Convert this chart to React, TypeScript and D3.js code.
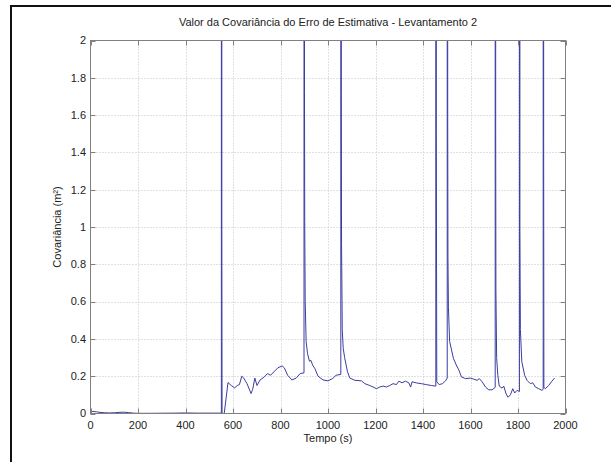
import React, { useEffect, useRef } from 'react';
import * as d3 from 'd3';

// time samples (s) and covariance values (m²)
// spike samples are far above the axis and get clipped
const times = [
  0, 10, 25, 40, 60, 80, 100, 120, 140, 160, 180, 200, 250, 300, 350, 400, 450, 500, 551,
  552, 553, 554, 563, 579, 593, 607, 618, 627, 637, 645, 659, 676, 683, 692, 701, 714, 731, 745,
  758, 772, 789, 807, 816, 830, 848, 866, 883, 899,
  900, 901, 902, 904, 908, 914, 922, 928, 935, 945, 958, 979, 1000, 1020, 1034, 1054,
  1055, 1056, 1057, 1060, 1064, 1070, 1082, 1092, 1113, 1141, 1155, 1176, 1190, 1204, 1218, 1232,
  1246, 1260, 1274, 1288, 1298, 1312, 1326, 1340, 1348, 1354, 1372, 1393, 1414, 1435, 1454,
  1455, 1456, 1458, 1468, 1482, 1495, 1502,
  1503, 1504, 1505, 1507, 1512, 1528, 1540, 1551, 1562, 1579, 1600, 1614, 1628, 1637, 1649, 1663,
  1677, 1691, 1704,
  1705, 1706, 1707, 1710, 1715, 1721, 1733, 1740, 1750, 1758, 1768, 1778, 1786, 1796, 1806,
  1807, 1808, 1810, 1816, 1828, 1838, 1852, 1862, 1873, 1887, 1901, 1906,
  1907, 1908, 1909, 1915, 1929, 1940, 1954,
];
const values = [
  0.01, 0.011, 0.009, 0.006, 0.004, 0.003, 0.004, 0.006, 0.007, 0.005, 0.002, 0.001, 0.001, 0.0015, 0.002, 0.003, 0.002, 0.002, 0.002,
  1000, 1.0, 0, 0, 0.166, 0.15, 0.137, 0.15, 0.155, 0.2, 0.19, 0.16, 0.107, 0.13, 0.19, 0.15, 0.18, 0.195, 0.214,
  0.205, 0.223, 0.245, 0.255, 0.245, 0.205, 0.18, 0.19, 0.214, 0.218,
  1000, 1.72, 1.03, 0.6, 0.385, 0.32, 0.28, 0.285, 0.26, 0.24, 0.2, 0.18, 0.175, 0.188, 0.205, 0.21,
  1000, 1.71, 0.91, 0.45, 0.35, 0.3, 0.224, 0.19, 0.178, 0.175, 0.16, 0.15, 0.142, 0.133, 0.142, 0.147,
  0.142, 0.15, 0.16, 0.155, 0.173, 0.165, 0.173, 0.165, 0.142, 0.17, 0.164, 0.16, 0.155, 0.15, 0.147,
  1000, 1.5, 0.17, 0.155, 0.16, 0.175, 0.19,
  1000, 1.645, 0.84, 0.57, 0.387, 0.296, 0.26, 0.233, 0.196, 0.187, 0.19, 0.184, 0.178, 0.187, 0.17, 0.142,
  0.127, 0.127, 0.14,
  1000, 1.53, 0.66, 0.3, 0.205, 0.147, 0.136, 0.147, 0.105, 0.087, 0.1, 0.133, 0.11, 0.124, 0.118,
  1000, 0.99, 0.45, 0.278, 0.205, 0.178, 0.16, 0.165, 0.142, 0.133, 0.124, 0.13,
  1000, 1.475, 0.14, 0.133, 0.15, 0.169, 0.19,
];
const xTicks = [0, 200, 400, 600, 800, 1000, 1200, 1400, 1600, 1800, 2000];
const yTicks = [0, 0.2, 0.4, 0.6, 0.8, 1, 1.2, 1.4, 1.6, 1.8, 2];

const App: React.FC = () => {
  const svgRef = useRef<SVGSVGElement>(null);

  useEffect(() => {
    const W = 611, H = 462;
    const box = { left: 90.5, right: 565.5, top: 40.5, bottom: 413.5 };
    const font = 'Arial, "Liberation Sans", sans-serif';
    const boxColor = '#808080';

    const x = d3.scaleLinear().domain([0, 2000]).range([box.left, box.right]);
    const y = d3.scaleLinear().domain([0, 2]).range([box.bottom, box.top]);

    const svg = d3.select(svgRef.current).html('');
    svg.append('rect').attr('width', W).attr('height', H).attr('fill', '#fff');

    // outer frame of the screenshot
    svg.append('path')
      .attr('d', `M11,${H} V6 H${W}`)
      .attr('fill', 'none').attr('stroke', '#111').attr('stroke-width', 2);

    // dotted grid
    const grid = svg.append('g')
      .attr('stroke', '#c2c2c2').attr('stroke-width', 1).attr('stroke-dasharray', '1,2');
    grid.selectAll('line.gx')
      .data(xTicks.slice(1, -1)).enter().append('line')
        .attr('x1', d => Math.round(x(d)) + 0.5).attr('x2', d => Math.round(x(d)) + 0.5)
        .attr('y1', box.top).attr('y2', box.bottom);
    grid.selectAll('line.gy')
      .data(yTicks.slice(1, -1)).enter().append('line')
        .attr('y1', d => Math.round(y(d)) + 0.5).attr('y2', d => Math.round(y(d)) + 0.5)
        .attr('x1', box.left).attr('x2', box.right);

    // data line, clipped to the axes box
    svg.append('clipPath').attr('id', 'plotClip')
      .append('rect')
        .attr('x', box.left).attr('y', box.top)
        .attr('width', box.right - box.left).attr('height', box.bottom - box.top);

    const line = d3.line<number>()
      .x((_, i) => x(times[i]))
      .y(d => y(d));

    svg.append('path')
      .attr('clip-path', 'url(#plotClip)')
      .attr('d', line(values) ?? '')
      .attr('fill', 'none')
      .attr('stroke', '#3c3ca0')
      .attr('stroke-width', 1)
      .attr('stroke-linejoin', 'round');

    // axes box with inside ticks
    svg.append('rect')
      .attr('x', box.left).attr('y', box.top)
      .attr('width', box.right - box.left).attr('height', box.bottom - box.top)
      .attr('fill', 'none').attr('stroke', boxColor);

    const ticks = svg.append('g').attr('stroke', boxColor);
    xTicks.forEach(t => {
      const px = Math.round(x(t)) + 0.5;
      ticks.append('line').attr('x1', px).attr('x2', px).attr('y1', box.bottom).attr('y2', box.bottom - 5);
      ticks.append('line').attr('x1', px).attr('x2', px).attr('y1', box.top).attr('y2', box.top + 5);
    });
    yTicks.forEach(t => {
      const py = Math.round(y(t)) + 0.5;
      ticks.append('line').attr('y1', py).attr('y2', py).attr('x1', box.left).attr('x2', box.left + 5);
      ticks.append('line').attr('y1', py).attr('y2', py).attr('x1', box.right).attr('x2', box.right - 5);
    });

    const fmt = d3.format('.1~f');

    svg.append('g')
      .attr('font-family', font).attr('font-size', 11).attr('fill', '#222')
      .attr('text-anchor', 'middle')
      .selectAll('text')
      .data(xTicks).enter().append('text')
        .attr('x', d => x(d))
        .attr('y', 429)
        .text(d => String(d));

    svg.append('g')
      .attr('font-family', font).attr('font-size', 11).attr('fill', '#222')
      .attr('text-anchor', 'end')
      .selectAll('text')
      .data(yTicks).enter().append('text')
        .attr('x', 86)
        .attr('y', d => y(d))
        .attr('dy', '0.35em')
        .text(d => fmt(d));

    svg.append('text')
      .attr('x', (box.left + box.right) / 2).attr('y', 26)
      .attr('text-anchor', 'middle')
      .attr('font-family', font).attr('font-size', 11).attr('fill', '#222')
      .text('Valor da Covariância do Erro de Estimativa - Levantamento 2');

    svg.append('text')
      .attr('x', (box.left + box.right) / 2).attr('y', 442)
      .attr('text-anchor', 'middle')
      .attr('font-family', font).attr('font-size', 11).attr('fill', '#222')
      .text('Tempo (s)');

    svg.append('text')
      .attr('transform', `translate(61,${(box.top + box.bottom) / 2}) rotate(-90)`)
      .attr('text-anchor', 'middle')
      .attr('font-family', font).attr('font-size', 11).attr('fill', '#222')
      .text('Covariância (m²)');
  }, []);

  return (
    <svg
      ref={svgRef}
      width={611}
      height={462}
      style={{ position: 'absolute', left: 0, top: 0, display: 'block' }}
    />
  );
};

export default App;
